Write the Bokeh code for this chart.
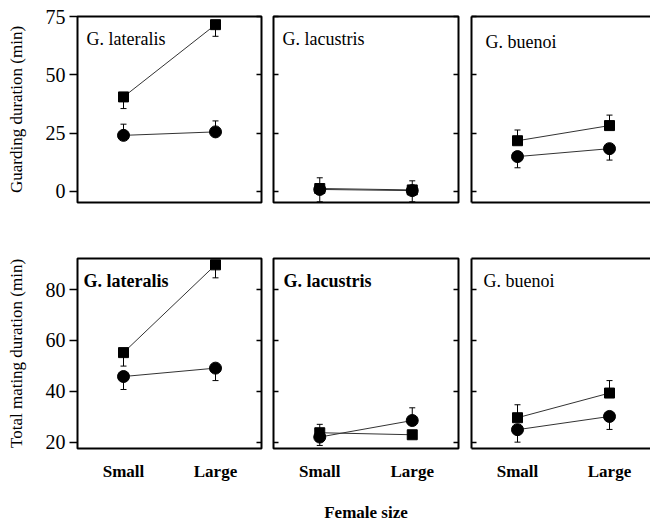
from bokeh.plotting import figure
from bokeh.layouts import row, column
from bokeh.models import (FixedTicker, LinearAxis, Label, Whisker, ColumnDataSource,
                          TeeHead, Range1d)
from bokeh.embed import file_html
from bokeh.resources import INLINE

sizes = ["Small", "Large"]
species = ["G. lateralis", "G. lacustris", "G. buenoi"]

# Guarding duration (min) -- squares and circles, [Small, Large] per species
guard_sq = [[40.5, 71.5], [1.2, 0.6], [21.7, 28.2]]
guard_sq_lo = [[35.5, 66.5], [1.2, 0.6], [21.7, 28.2]]
guard_sq_hi = [[40.5, 71.5], [1.2, 0.6], [26.3, 32.7]]
guard_ci = [[24.0, 25.5], [0.8, 0.3], [14.9, 18.3]]
guard_ci_lo = [[24.0, 25.5], [-4.5, -4.5], [10.1, 13.4]]
guard_ci_hi = [[28.8, 30.2], [5.8, 4.5], [14.9, 18.3]]

# Total mating duration (min)
total_sq = [[55.2, 89.7], [23.7, 22.9], [29.6, 39.3]]
total_sq_lo = [[49.9, 84.6], [23.7, 22.9], [29.6, 39.3]]
total_sq_hi = [[55.2, 89.7], [27.0, 22.9], [34.7, 44.2]]
total_ci = [[45.8, 49.1], [22.0, 28.5], [24.9, 30.1]]
total_ci_lo = [[40.7, 44.2], [18.7, 28.5], [20.0, 25.0]]
total_ci_hi = [[45.8, 49.1], [22.0, 33.5], [24.9, 30.1]]

guard_ticks = [0, 25, 50, 75]
total_ticks = [20, 40, 60, 80]

FONT = "Liberation Serif"
xpos = list(range(1, len(sizes) + 1))


def inward_ticker(ticks):
    return FixedTicker(ticks=[], minor_ticks=ticks)


def make_panel(r, c, sq, sq_lo, sq_hi, ci, ci_lo, ci_hi, ticks, yr, ylabel):
    fw = [184, 185, 179][c]
    fh = [186, 190][r]
    xend = 2.5 if c < 2 else 0.5 + 179 / 92.0
    mbl = [77, 6, 7][c]
    mbr = [6, 6, 0][c]
    mbt = [16, 28][r]
    mbb = [28, 77][r]
    p = figure(frame_width=fw, frame_height=fh, x_range=Range1d(0.5, xend),
               y_range=Range1d(*yr), output_backend="svg", toolbar_location=None,
               min_border_left=mbl, min_border_right=mbr, min_border_top=mbt,
               min_border_bottom=mbb)
    p.xgrid.visible = False
    p.ygrid.visible = False
    p.background_fill_color = "white"
    p.border_fill_color = "white"
    if c < 2:
        p.outline_line_color = "black"
        p.outline_line_width = 2
    else:
        p.outline_line_color = None

    # left y axis
    ya = p.left[0]
    ya.minor_tick_line_color = "black"
    ya.minor_tick_line_width = 1.5
    ya.major_tick_line_width = 1.5
    ya.major_tick_line_color = "black"
    if c == 0:
        ya.ticker = FixedTicker(ticks=ticks)
        ya.axis_line_color = None
        ya.major_tick_out = 8
        ya.major_tick_in = 0
        ya.major_label_standoff = 4
        ya.major_label_text_font = FONT
        ya.major_label_text_font_size = "20px"
        ya.major_label_text_color = "black"
        ya.axis_label = ylabel
        ya.axis_label_text_font = FONT
        ya.axis_label_text_font_size = "17px"
        ya.axis_label_text_font_style = "normal"
        ya.axis_label_text_color = "black"
        ya.axis_label_standoff = 17
    else:
        ya.ticker = inward_ticker(ticks)
        ya.axis_line_color = None if c == 1 else "black"
        ya.axis_line_width = 2
        ya.minor_tick_out = 0
        ya.minor_tick_in = 5
        ya.major_label_standoff = 0

    if c < 2:
        ra = LinearAxis(ticker=inward_ticker(ticks), minor_tick_in=5, minor_tick_out=0,
                        major_label_standoff=0, axis_line_color=None,
                        minor_tick_line_color="black", minor_tick_line_width=1.5)
        p.add_layout(ra, "right")
    else:
        ta = LinearAxis(ticker=FixedTicker(ticks=[]), major_tick_line_color=None,
                        minor_tick_line_color=None, major_label_standoff=0,
                        axis_line_width=2, axis_line_color="black")
        p.add_layout(ta, "above")

    # bottom x axis
    xa = p.below[0]
    xa.major_tick_line_color = None
    xa.minor_tick_line_color = None
    xa.axis_line_color = None if c < 2 else "black"
    xa.axis_line_width = 2
    if r == 1:
        xa.ticker = FixedTicker(ticks=xpos)
        xa.major_label_overrides = {xv: s for xv, s in zip(xpos, sizes)}
        xa.major_label_text_font = FONT
        xa.major_label_text_font_style = "bold"
        xa.major_label_text_font_size = "17px"
        xa.major_label_text_color = "black"
        xa.major_label_standoff = 7
        if c == 1:
            xa.axis_label = "Female size"
            xa.axis_label_text_font = FONT
            xa.axis_label_text_font_style = "bold"
            xa.axis_label_text_font_size = "17px"
            xa.axis_label_text_color = "black"
            xa.axis_label_standoff = 19
    else:
        if c < 2:
            xa.visible = False
        else:
            xa.ticker = FixedTicker(ticks=[])
            xa.major_label_standoff = 0

    # data
    for vals, lo, hi in ((sq, sq_lo, sq_hi), (ci, ci_lo, ci_hi)):
        p.line(xpos, vals, line_color="#333333", line_width=1)
        src = ColumnDataSource(dict(x=xpos, lo=lo, hi=hi))
        w = Whisker(source=src, base="x", lower="lo", upper="hi", line_color="black",
                    line_width=1, level="underlay",
                    upper_head=TeeHead(size=6, line_width=1, line_color="black"),
                    lower_head=TeeHead(size=6, line_width=1, line_color="black"))
        p.add_layout(w)
    p.scatter(xpos, sq, marker="square", size=10, fill_color="black", line_color="black")
    p.scatter(xpos, ci, marker="circle", size=12, fill_color="black", line_color="black")

    # species title
    ty = [[164, 164, 161], [168, 168, 168]][r][c]
    tx = [[9, 9, 14], [6, 10, 12]][r][c]
    bold = (r == 1 and c < 2)
    p.add_layout(Label(x=tx, y=ty, x_units="screen", y_units="screen", text=species[c],
                       text_font=FONT, text_font_size="18px",
                       text_font_style="bold" if bold else "normal",
                       text_color="black", text_baseline="alphabetic"))
    return p


top = []
bot = []
for c in range(3):
    top.append(make_panel(0, c, guard_sq[c], guard_sq_lo[c], guard_sq_hi[c],
                          guard_ci[c], guard_ci_lo[c], guard_ci_hi[c],
                          guard_ticks, (-4.8, 75.0), "Guarding duration (min)"))
    bot.append(make_panel(1, c, total_sq[c], total_sq_lo[c], total_sq_hi[c],
                          total_ci[c], total_ci_lo[c], total_ci_hi[c],
                          total_ticks, (17.5, 92.2), "Total mating duration (min)"))

layout = column(row(*top), row(*bot))
open("out.html", "w").write(file_html(layout, INLINE))
